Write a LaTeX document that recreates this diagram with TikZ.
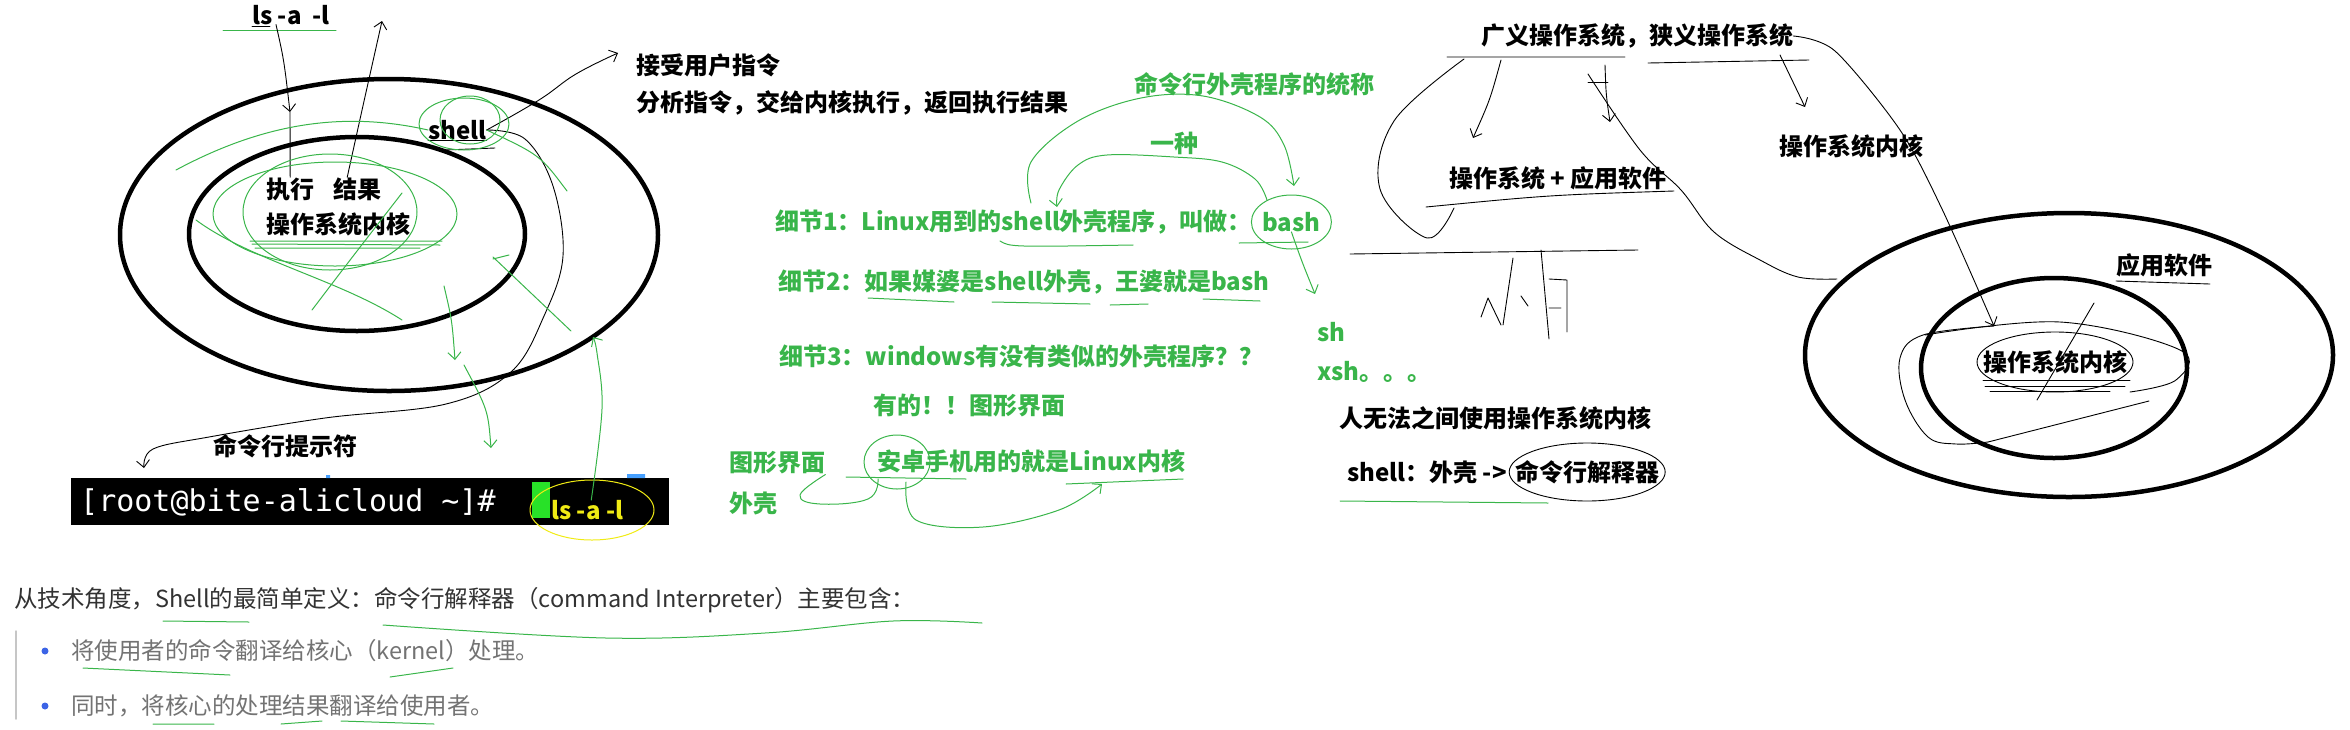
\documentclass[tikz,border=0pt]{standalone}
\usepackage{fontspec}
\setmainfont{Noto Sans CJK SC}
\newfontfamily\monofont{DejaVu Sans Mono}
\usepackage{tikz}
\usetikzlibrary{arrows.meta,positioning}
\definecolor{inkgreen}{RGB}{57,181,74}
\definecolor{termyellow}{RGB}{240,235,20}
\definecolor{cursorgreen}{RGB}{40,225,40}
\definecolor{bodygray}{RGB}{115,115,115}
\definecolor{bodydark}{RGB}{50,50,50}
\definecolor{dotblue}{RGB}{60,100,230}
\definecolor{markblue}{RGB}{70,160,255}
\tikzset{
  note/.style={anchor=west, inner sep=0pt, font=\bfseries\fontsize{24}{28}\selectfont},
  gnote/.style={note, text=inkgreen},
  body/.style={anchor=west, inner sep=0pt, font=\fontsize{23.5}{28}\selectfont},
  ring/.style={line width=4.5pt},
  ink/.style={line width=0.9pt},
  gink/.style={line width=1pt, draw=inkgreen},
  barb/.style={-{Straight Barb[length=7pt,width=13pt]}},
  dot/.style={circle, fill=dotblue, inner sep=0pt, minimum size=7pt}
}

\begin{document}
\begin{tikzpicture}[x=1pt, y=-1pt, line cap=round, line join=round]
  \useasboundingbox (0,0) rectangle (2350,729);

  % left: shell round the kernel
  \draw[ring] (389,235) ellipse [x radius=269pt, y radius=156pt];
  \draw[ring] (357,234) ellipse [x radius=168pt, y radius=97pt];

  \node[note, anchor=base west] (lsTop) at (252,24) {ls -a\ \ -l};
  \node[note] (shellN) at (428,130) {shell};
  \node[note] (zhixing) at (266,189) {执行};
  \node[note] (jieguo) at (333,189) {结果};
  \node[note] (kernelL) at (266,224) {操作系统内核};
  \node[note] (prompt) at (213,446) {命令行提示符};
  \node[note] (accept) at (636,65) {接受用户指令};
  \node[note] (analyze) at (636,103) {分析指令，交给内核执行，返回执行结果};

  \coordinate (downTip) at (290,112);
  \coordinate (upTip) at (382,21);
  \coordinate (acceptTip) at (618,53);
  \coordinate (promptTip) at (144,468);

  \draw[ink] (252,26) -- ++(18,0);
  \draw[gink] (223,30) -- (336,30);
  \draw[ink, barb] ([xshift=-15pt]lsTop.south) .. controls (284,60) .. (downTip);
  \draw[ink] (downTip) -- (zhixing.north);
  \draw[ink, barb] ([xshift=-10pt]jieguo.north) .. controls (362,110) .. (upTip);
  \draw[ink] (shellN.south west) -- (shellN.south east);
  \draw[ink] (445,150) -- (495,148);
  \draw[ink, barb] plot[smooth, tension=0.7] coordinates {(shellN.east) (539,100) (576,74) (acceptTip)};
  \draw[ink, barb] plot[smooth, tension=0.6] coordinates {(shellN.east) (525,139) (553,186) (563,256) (544,316) (511,372) (446,404) (325,418) (209,437) (153,449) (promptTip)};

  % green scribbles
  \draw[gink] (335,214) ellipse [x radius=122pt, y radius=52pt];
  \draw[gink] (330,212) ellipse [x radius=87pt, y radius=58pt];
  \draw[gink] (250,241) -- (442,241) (252,244) -- (440,245) (255,248) -- (420,248);
  \draw[gink] (312,310) .. controls (350,260) .. (402,193);
  \draw[gink] (196,220) .. controls (250,260) and (340,280) .. (402,320);
  \draw[gink] (176,170) .. controls (260,125) and (340,110) .. (shellN.west);
  \draw[gink] (464,124) ellipse [x radius=45pt, y radius=26pt];
  \draw[gink] (470,120) ellipse [x radius=30pt, y radius=24pt];
  \draw[gink] (shellN.east) .. controls (540,155) .. (567,191);

  \coordinate (gd1) at (444,286);
  \coordinate (gd1Tip) at (455,360);
  \coordinate (gd2) at (464,365);
  \coordinate (gd2Tip) at (491,448);
  \coordinate (yTip) at (593,337);
  \draw[gink, barb] (gd1) .. controls (452,320) .. (gd1Tip);
  \draw[gink, barb] (gd2) .. controls (488,410) .. (gd2Tip);
  \draw[gink] (493,257) -- (571,331) (493,259) -- (509,255);

  % terminal line
  \fill (71,478) rectangle (669,525);
  \fill[markblue] (326,475) rectangle (330,478) (627,474) rectangle (645,478);
  \node[anchor=west, inner sep=0pt, text=white, font=\monofont\fontsize{30}{32}\selectfont] (promptLine) at (80,502) {[root@bite-alicloud \textasciitilde]\#};
  \fill[cursorgreen] (532,482) rectangle (550,518);
  \node[note, text=termyellow] (lsTerm) at (551,510) {ls -a -l};
  \draw[termyellow, line width=1pt] (592,510) ellipse [x radius=62pt, y radius=30pt];
  \draw[gink, barb] plot[smooth, tension=0.6] coordinates {([xshift=4pt]lsTerm.north) (602,409) (597,353) (yTip)};

  % middle: green notes
  \node[gnote] (title) at (1134,84) {命令行外壳程序的统称};
  \node[gnote] (yizhong) at (1150,143) {一种};
  \node[gnote] (d1) at (775,222) {细节1：Linux用到的shell外壳程序，叫做：};
  \node[gnote, right=10pt of d1] (bash) {bash};
  \node[gnote] (d2) at (778,282) {细节2：如果媒婆是shell外壳，王婆就是bash};
  \node[gnote] (d3) at (779,356) {细节3：windows有没有类似的外壳程序？？};
  \node[gnote] (youde) at (873,405) {有的！！图形界面};
  \node[gnote] (gui) at (729,463) {图形界面};
  \node[gnote] (waike) at (729,503) {外壳};
  \node[gnote] (android) at (877,461) {安卓手机用的就是Linux内核};
  \node[gnote] (sh) at (1317,332) {sh};
  \node[gnote] (xsh) at (1317,372) {xsh。。。};

  \coordinate (shellWord) at (1031,203);
  \coordinate (shellWordTip) at (1057,207);
  \coordinate (bashTip) at (1294,186);
  \coordinate (shTip) at (1315,294);
  \draw[gink, barb] plot[smooth, tension=0.6] coordinates {(shellWord) (1031,162) (1078,121) (1141,98) (1203,96) (1260,117) (1284,145) (bashTip)};
  \draw[gink, barb] plot[smooth, tension=0.6] coordinates {(1267,200) (1255,179) (1222,162) (1174,157) (1107,155) (1078,165) (1059,190) (shellWordTip)};
  \draw[gink] (bash.center) ellipse [x radius=40pt, y radius=27pt];
  \draw[gink, barb] (bash.south) .. controls (1302,262) .. (shTip);
  \draw[gink] (1000,241) .. controls (1010,247) .. (1133,245) (1239,243) -- (1308,242);
  \draw[gink] (868,298) -- (954,302) (992,302) -- (1090,304) (1110,305) -- (1148,304) (1203,299) -- (1260,301);
  \draw[gink] (897,462) ellipse [x radius=33pt, y radius=27pt];
  \draw[gink] (846,477) -- (966,479) (1066,484) -- (1183,479);
  \draw[gink] plot[smooth, tension=0.7] coordinates {(gui.south east) (800,495) (820,504) (868,499) (878,479)};
  \coordinate (linuxTip) at (1102,484);
  \draw[gink, barb] plot[smooth, tension=0.6] coordinates {(906,482) (916,520) (983,527) (1059,510) (linuxTip)};

  % right: broad and narrow sense
  \node[note] (guangyi) at (1481,36) {广义操作系统，狭义操作系统};
  \node[note] (osapp) at (1449,178) {操作系统 + 应用软件};
  \node[note] (kernelR1) at (1779,146) {操作系统内核};
  \node[note] (human) at (1339,418) {人无法之间使用操作系统内核};
  \node[note] (shellpre) at (1347,472) {shell：外壳 ->};
  \node[note, right=8pt of shellpre] (interp) {命令行解释器};
  \draw[ink] (interp.center) ellipse [x radius=78pt, y radius=29pt];
  \draw[gink] (1340,501) -- (1548,503);

  \draw[ring] (2069,355) ellipse [x radius=264pt, y radius=142pt];
  \draw[ring] (2054,368) ellipse [x radius=133pt, y radius=90pt];
  \node[note] (app) at (2116,265) {应用软件};
  \node[note] (kernelR2) at (1983,362) {操作系统内核};
  \draw[ink] (2116,281) -- (2210,284);
  \draw[ink] (1983,380) -- (2130,380) (1985,386) -- (2125,386) (1990,391) -- (2110,391);

  \coordinate (d_os) at (1473,138);
  \coordinate (d_app) at (1610,122);
  \coordinate (d_kern) at (1805,107);
  \coordinate (kernTip) at (1994,326);
  \draw[ink] (1447,57) -- (1625,57) (1648,63) -- (1809,60);
  \draw[ink, barb] (1501,60) .. controls (1490,100) .. (d_os);
  \draw[ink, barb] (1605,65) .. controls (1606,95) .. (d_app);
  \draw[ink, barb] (1780,55) .. controls (1792,80) .. (d_kern);
  \draw[ink, barb] plot[smooth, tension=0.5] coordinates {(guangyi.east) (1835,51) (1900,130) (1942,209) (kernTip)};
  \draw[ink] plot[smooth, tension=0.6] coordinates {(1588,74) (1640,150) (1681,190) (1714,232) (1760,260) (1798,277) (1837,279)};
  \draw[ink] (1588,82) -- (1608,82);
  \draw[ink] plot[smooth, tension=0.6] coordinates {(1464,59) (1394,121) (1380,189) (1427,238) (1454,208)};
  \draw[ink] (1426,207) .. controls (1550,195) .. (1674,191);
  \draw[ink] (1350,254) -- (1638,250);
  \draw[ink] (1541,250) -- (1549,339) (1513,258) -- (1503,325);
  \draw[ink] (1481,317) -- (1488,298) -- (1501,325) (1521,296) -- (1528,306);
  \draw[ink] (1549,279) -- (1567,280) -- (1567,332) (1549,308) -- (1561,308);
  \draw[ink] plot[smooth, tension=0.6] coordinates {(kernTip) (1923,335) (1900,358) (1905,400) (1928,437) (1956,444) (1988,442)};
  \draw[ink] (1988,442) -- (2149,401);
  \draw[ink] (2055,362) ellipse [x radius=78pt, y radius=30pt];
  \draw[ink] plot[smooth, tension=0.6] coordinates {(1925,335) (2060,322) (2180,350) (2176,380) (2130,392)};
  \draw[ink] (2094,303) -- (2037,400);

  % bottom notes
  \node[body, text=bodydark] (def) at (14,600) {从技术角度，Shell的最简单定义：命令行解释器（command Interpreter）主要包含：};
  \draw[gray!45, line width=1.5pt] (16,631) -- (16,719);
  \node[dot] (dot1) at (45,651) {};
  \node[dot] (dot2) at (45,706) {};
  \node[body, text=bodygray] (item1) at (71,651) {将使用者的命令翻译给核心（kernel）处理。};
  \node[body, text=bodygray] (item2) at (71,706) {同时，将核心的处理结果翻译给使用者。};
  \draw[gink] (163,621) -- (249,622);
  \draw[gink] plot[smooth, tension=0.6] coordinates {(383,625) (606,638) (765,633) (893,621) (982,623)};
  \draw[gink] (83,668) -- (230,675) (390,677) -- (453,668);
  \draw[gink] (153,724) -- (214,724) (281,724) -- (322,721) (341,721) -- (434,724);
\end{tikzpicture}
\end{document}
